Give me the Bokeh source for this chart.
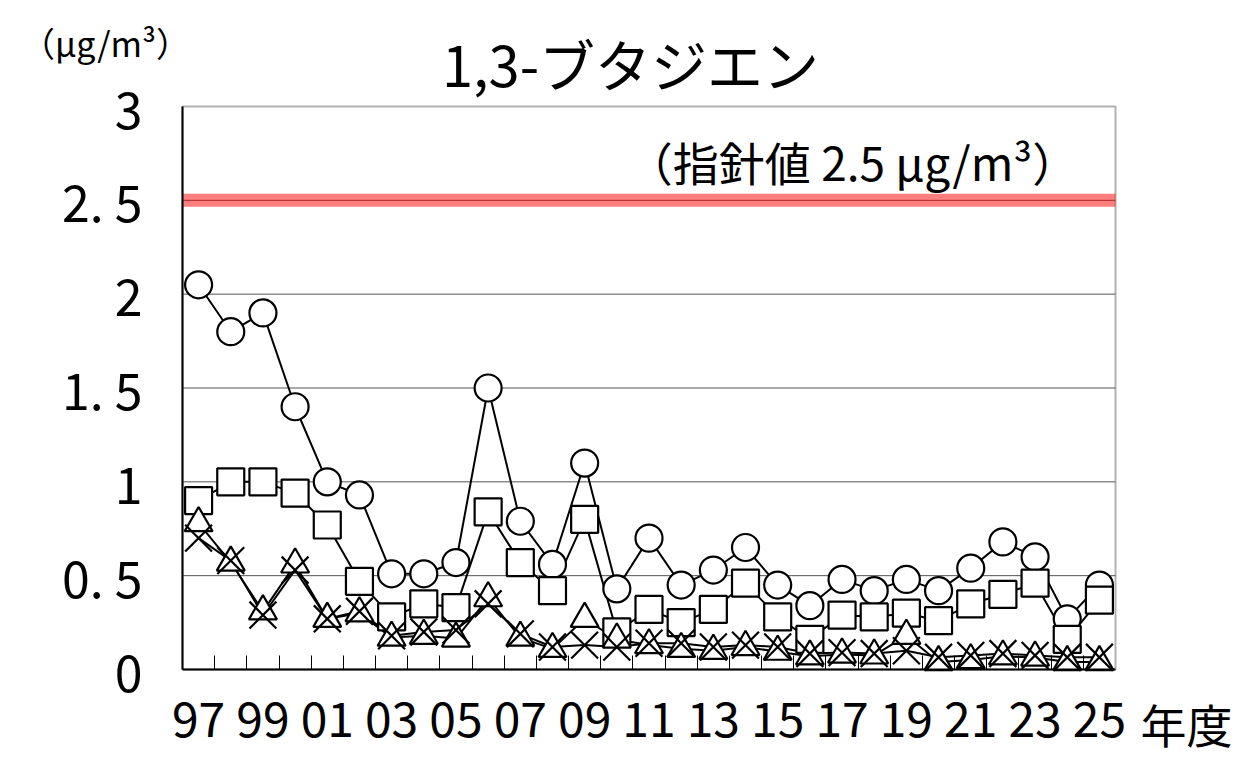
from bokeh.plotting import figure
from bokeh.models import FixedTicker, Label, LinearAxis, BoxAnnotation, ColumnDataSource
from bokeh.embed import file_html
from bokeh.resources import INLINE

years = ["97","98","99","00","01","02","03","04","05","06","07","08","09","10",
         "11","12","13","14","15","16","17","18","19","20","21","22","23","24","25"]
circle_vals = [2.05,1.80,1.90,1.40,1.00,0.93,0.51,0.51,0.57,1.50,0.79,0.56,1.10,0.43,
               0.70,0.45,0.53,0.65,0.45,0.34,0.48,0.42,0.48,0.42,0.54,0.68,0.60,0.27,0.45]
square_vals = [0.90,1.00,1.00,0.94,0.77,0.47,0.28,0.35,0.33,0.84,0.57,0.42,0.80,0.20,
               0.32,0.25,0.32,0.46,0.28,0.16,0.29,0.28,0.30,0.26,0.35,0.40,0.46,0.16,0.37]
triangle_vals = [0.78,0.57,0.31,0.56,0.27,0.30,0.17,0.18,0.165,0.38,0.17,0.11,0.27,0.16,
                 0.13,0.11,0.10,0.12,0.095,0.07,0.08,0.075,0.18,0.04,0.05,0.07,0.064,0.04,0.04]
cross_vals = [0.70,0.58,0.29,0.53,0.27,0.31,0.18,0.20,0.21,0.35,0.19,0.12,0.13,0.12,
              0.14,0.14,0.12,0.13,0.12,0.085,0.09,0.085,0.10,0.065,0.075,0.085,0.075,0.065,0.065]
guideline = 2.5
y_ticks = [0, 0.5, 1, 1.5, 2, 2.5, 3]
y_tick_labels = ["0", "0. 5", "1", "1. 5", "2", "2. 5", "3"]
grid_vals = [0.5, 1, 1.5, 2, 2.5]
title_text = "1,3-ブタジエン"
unit_text = "（μg/m³）"
guide_text = "（指針値 2.5 μg/m³）"
xunit_text = "年度"

FONT = "Noto Sans CJK JP"
idx = list(range(len(years)))
n = len(years)
y_min, y_max = 0, 3

# ---- page layout (pixels) ----
W, H = 1240, 765
PLOT_L, PLOT_R, PLOT_T, PLOT_B = 182, 1115, 106, 669
sx = (PLOT_R - PLOT_L) / n                  # px per category
sy = (PLOT_B - PLOT_T) / (y_max - y_min)    # px per unit


def px_x(px):
    return -0.5 + (px - PLOT_L) / sx


def px_y(py):
    return y_min + (PLOT_B - py) / sy


p = figure(width=W, height=H, min_border=0, title=None,
           x_range=(px_x(0), px_x(W)), y_range=(px_y(H), px_y(0)),
           x_axis_type=None, y_axis_type=None,
           output_backend="svg", toolbar_location=None, tools="")
p.background_fill_color = "white"
p.border_fill_color = "white"
p.outline_line_color = None
p.grid.visible = False

x_lo, x_hi = -0.5, n - 0.5

# grid lines
p.segment(x0=[x_lo] * len(grid_vals), x1=[x_hi] * len(grid_vals), y0=grid_vals, y1=grid_vals,
          line_color="#555555", line_width=1)
# guideline band
p.segment(x0=[x_lo], x1=[x_hi], y0=[guideline], y1=[guideline],
          line_color="#ff0000", line_alpha=0.5, line_width=13)

# axes
xaxis = LinearAxis(fixed_location=y_min, bounds=(x_lo, x_hi),
                   ticker=FixedTicker(ticks=idx[::2], minor_ticks=[i + 0.5 for i in idx[:-1]]))
xaxis.major_label_overrides = {i: years[i] for i in idx[::2]}
xaxis.major_tick_in = 0
xaxis.major_tick_out = 0
xaxis.minor_tick_in = 14
xaxis.minor_tick_out = 0
xaxis.minor_tick_line_color = "black"
xaxis.axis_line_width = 2
xaxis.major_label_text_font = FONT
xaxis.major_label_text_font_size = "48px"
xaxis.major_label_text_color = "black"
xaxis.major_label_standoff = 32
p.add_layout(xaxis, "below")

yaxis = LinearAxis(fixed_location=x_lo, bounds=(y_min, y_max), ticker=FixedTicker(ticks=y_ticks))
yaxis.major_label_overrides = {t: l for t, l in zip(y_ticks, y_tick_labels)}
yaxis.major_tick_in = 0
yaxis.major_tick_out = 0
yaxis.minor_tick_line_color = None
yaxis.axis_line_width = 2
yaxis.major_label_text_font = FONT
yaxis.major_label_text_font_size = "50px"
yaxis.major_label_text_color = "black"
yaxis.major_label_standoff = 40
p.add_layout(yaxis, "left")

# plot area border
p.add_layout(BoxAnnotation(left=x_lo, right=x_hi, bottom=y_min, top=y_max,
                           fill_alpha=0, line_color="black", line_width=2, level="underlay"))

src = ColumnDataSource(dict(x=idx, c=circle_vals, s=square_vals, t=triangle_vals, k=cross_vals))
markers = [("c", "circle", 27), ("s", "square", 27), ("t", "triangle", 28), ("k", "x", 38)]
for col, marker, sz in markers:
    p.line("x", col, source=src, line_color="black", line_width=2)
for col, marker, sz in markers:
    p.scatter("x", col, source=src, marker=marker, size=sz, fill_color="white",
              line_color="black", line_width=2.2)

# texts
def add_text(px, py, text, size):
    p.add_layout(Label(x=px_x(px), y=px_y(py), text=text, text_font=FONT,
                       text_font_size=size, text_align="center", text_baseline="middle",
                       text_color="black"))

add_text(630, 62, title_text, "56px")
add_text(105, 42, unit_text, "34px")
add_text(852, 160, guide_text, "46px")
add_text(1186, 722, xunit_text, "46px")

open("out.html", "w").write(file_html(p, INLINE))
